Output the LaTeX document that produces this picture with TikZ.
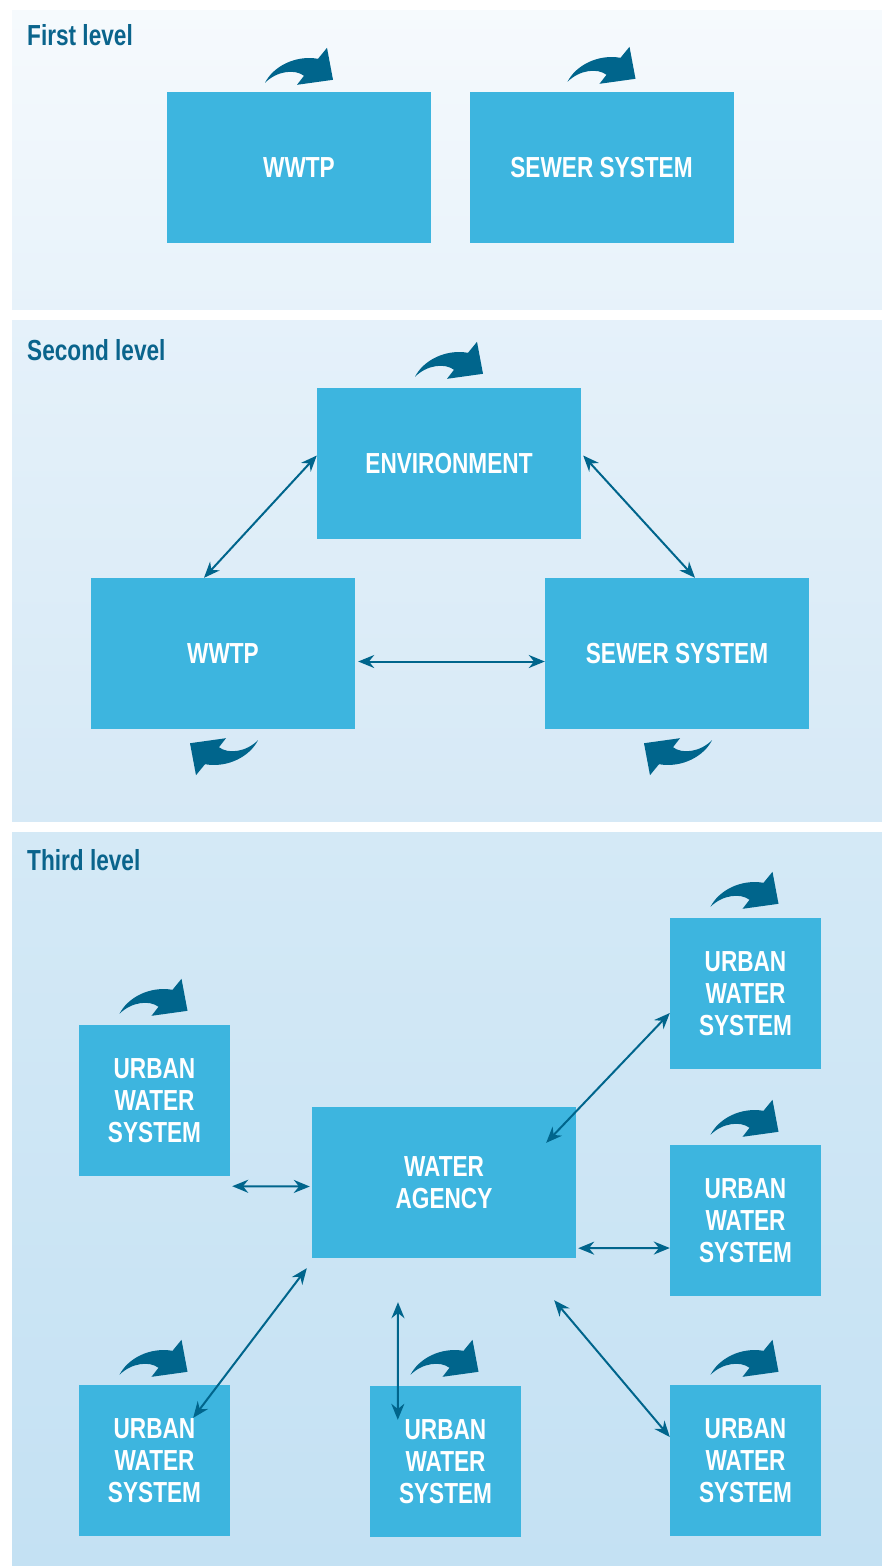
\documentclass[tikz,border=0pt]{standalone}
\usepackage{fontspec}
\usetikzlibrary{arrows.meta}
\newfontfamily\condfont{Liberation Sans}[FakeStretch=0.78]

\definecolor{boxblue}{RGB}{61,181,223}
\definecolor{arrowteal}{RGB}{0,101,140}
\definecolor{titleteal}{RGB}{10,100,140}

\begin{document}
\begin{tikzpicture}[x=1pt, y=-1pt,
  box/.style={rectangle, fill=boxblue, text=white, inner sep=0pt, align=center,
    minimum width=264pt, minimum height=151pt,
    font=\condfont\bfseries\fontsize{29}{32}\selectfont},
  smallbox/.style={box, minimum width=151pt},
  leveltitle/.style={anchor=base west, text=titleteal, inner sep=0pt,
    font=\condfont\bfseries\fontsize{29}{32}\selectfont},
  link/.style={{Stealth[length=16pt,width=13pt]}-{Stealth[length=16pt,width=13pt]},
    line width=2pt, draw=arrowteal},
  turn/.pic={\fill[arrowteal] (0,0) .. controls (8,-16) and (30,-28) .. (53,-24)
    -- (62,-35) -- (68,-3) -- (32,2) -- (39,-7) .. controls (30,-14) and (12,-12) .. (0,0) -- cycle;}]

\useasboundingbox (0,0) rectangle (882,1566);
\fill[white] (0,0) rectangle (882,1566);

% Panels
\shade[top color={rgb,255:red,246;green,250;blue,253}, bottom color={rgb,255:red,231;green,242;blue,250}]
  (12,10) rectangle (882,309);
\shade[top color={rgb,255:red,229;green,241;blue,250}, bottom color={rgb,255:red,214;green,233;blue,246}]
  (12,320) rectangle (882,821);
\shade[top color={rgb,255:red,212;green,233;blue,246}, bottom color={rgb,255:red,196;green,225;blue,243}]
  (12,832) rectangle (882,1566);

% First level
\node[leveltitle] (t1) at (27,45) {First level};
\node[box] (wwtp1) at (299,167.5) {WWTP};
\node[box] (sewer1) at (601.5,167.5) {SEWER SYSTEM};
\path (wwtp1.north) ++(-34,-9) pic {turn};
\path (sewer1.north) ++(-34,-10) pic {turn};

% Second level
\node[leveltitle] (t2) at (27,360) {Second level};
\node[box] (env) at (449,463.5) {ENVIRONMENT};
\node[box] (wwtp2) at (223,653.5) {WWTP};
\node[box] (sewer2) at (677,653.5) {SEWER SYSTEM};
\draw[link] ([yshift=8pt]env.west) -- ([xshift=-19pt]wwtp2.north);
\draw[link] ([xshift=2pt,yshift=8pt]env.east) -- ([xshift=18pt]sewer2.north);
\draw[link] ([xshift=3pt,yshift=-8pt]wwtp2.east) -- ([yshift=-8pt]sewer2.west);
\path (env.north) ++(-34,-11) pic {turn};
\path (wwtp2.south) ++(35,11) pic[rotate=180] {turn};
\path (sewer2.south) ++(35,11) pic[rotate=180] {turn};

% Third level
\node[leveltitle] (t3) at (27,870) {Third level};
\node[box] (wa) at (444,1182.5) {WATER\\AGENCY};
\node[smallbox] (uwsTR) at (745.5,993.5) {URBAN\\WATER\\SYSTEM};
\node[smallbox] (uwsL) at (154.5,1100.5) {URBAN\\WATER\\SYSTEM};
\node[smallbox] (uwsRM) at (745.5,1220.5) {URBAN\\WATER\\SYSTEM};
\node[smallbox] (uwsBL) at (154.5,1460.5) {URBAN\\WATER\\SYSTEM};
\node[smallbox] (uwsBM) at (445.5,1461.5) {URBAN\\WATER\\SYSTEM};
\node[smallbox] (uwsBR) at (745.5,1460.5) {URBAN\\WATER\\SYSTEM};

\draw[link] ([shift={(2,10)}]uwsL.south east) -- ([shift={(-2,4)}]wa.west);
\draw[link] ([shift={(2,-10)}]wa.south east) -- ([yshift=-27.5pt]uwsRM.west);
\draw[link] ([shift={(-30,36)}]wa.north east) -- ([yshift=-19.5pt]uwsTR.west);
\draw[link] ([shift={(-5,10)}]wa.south west) -- ([shift={(-37,33)}]uwsBL.north east);
\draw[link] ([shift={(-46,44)}]wa.south) -- ([shift={(28,34)}]uwsBM.north west);
\draw[link] ([shift={(-22,42)}]wa.south east) -- ([yshift=23.5pt]uwsBR.west);

\path (uwsTR.north) ++(-35,-11) pic {turn};
\path (uwsL.north) ++(-35,-11) pic {turn};
\path (uwsRM.north) ++(-35,-10) pic {turn};
\path (uwsBL.north) ++(-35,-10) pic {turn};
\path (uwsBM.north) ++(-35,-11) pic {turn};
\path (uwsBR.north) ++(-35,-10) pic {turn};

\end{tikzpicture}
\end{document}
